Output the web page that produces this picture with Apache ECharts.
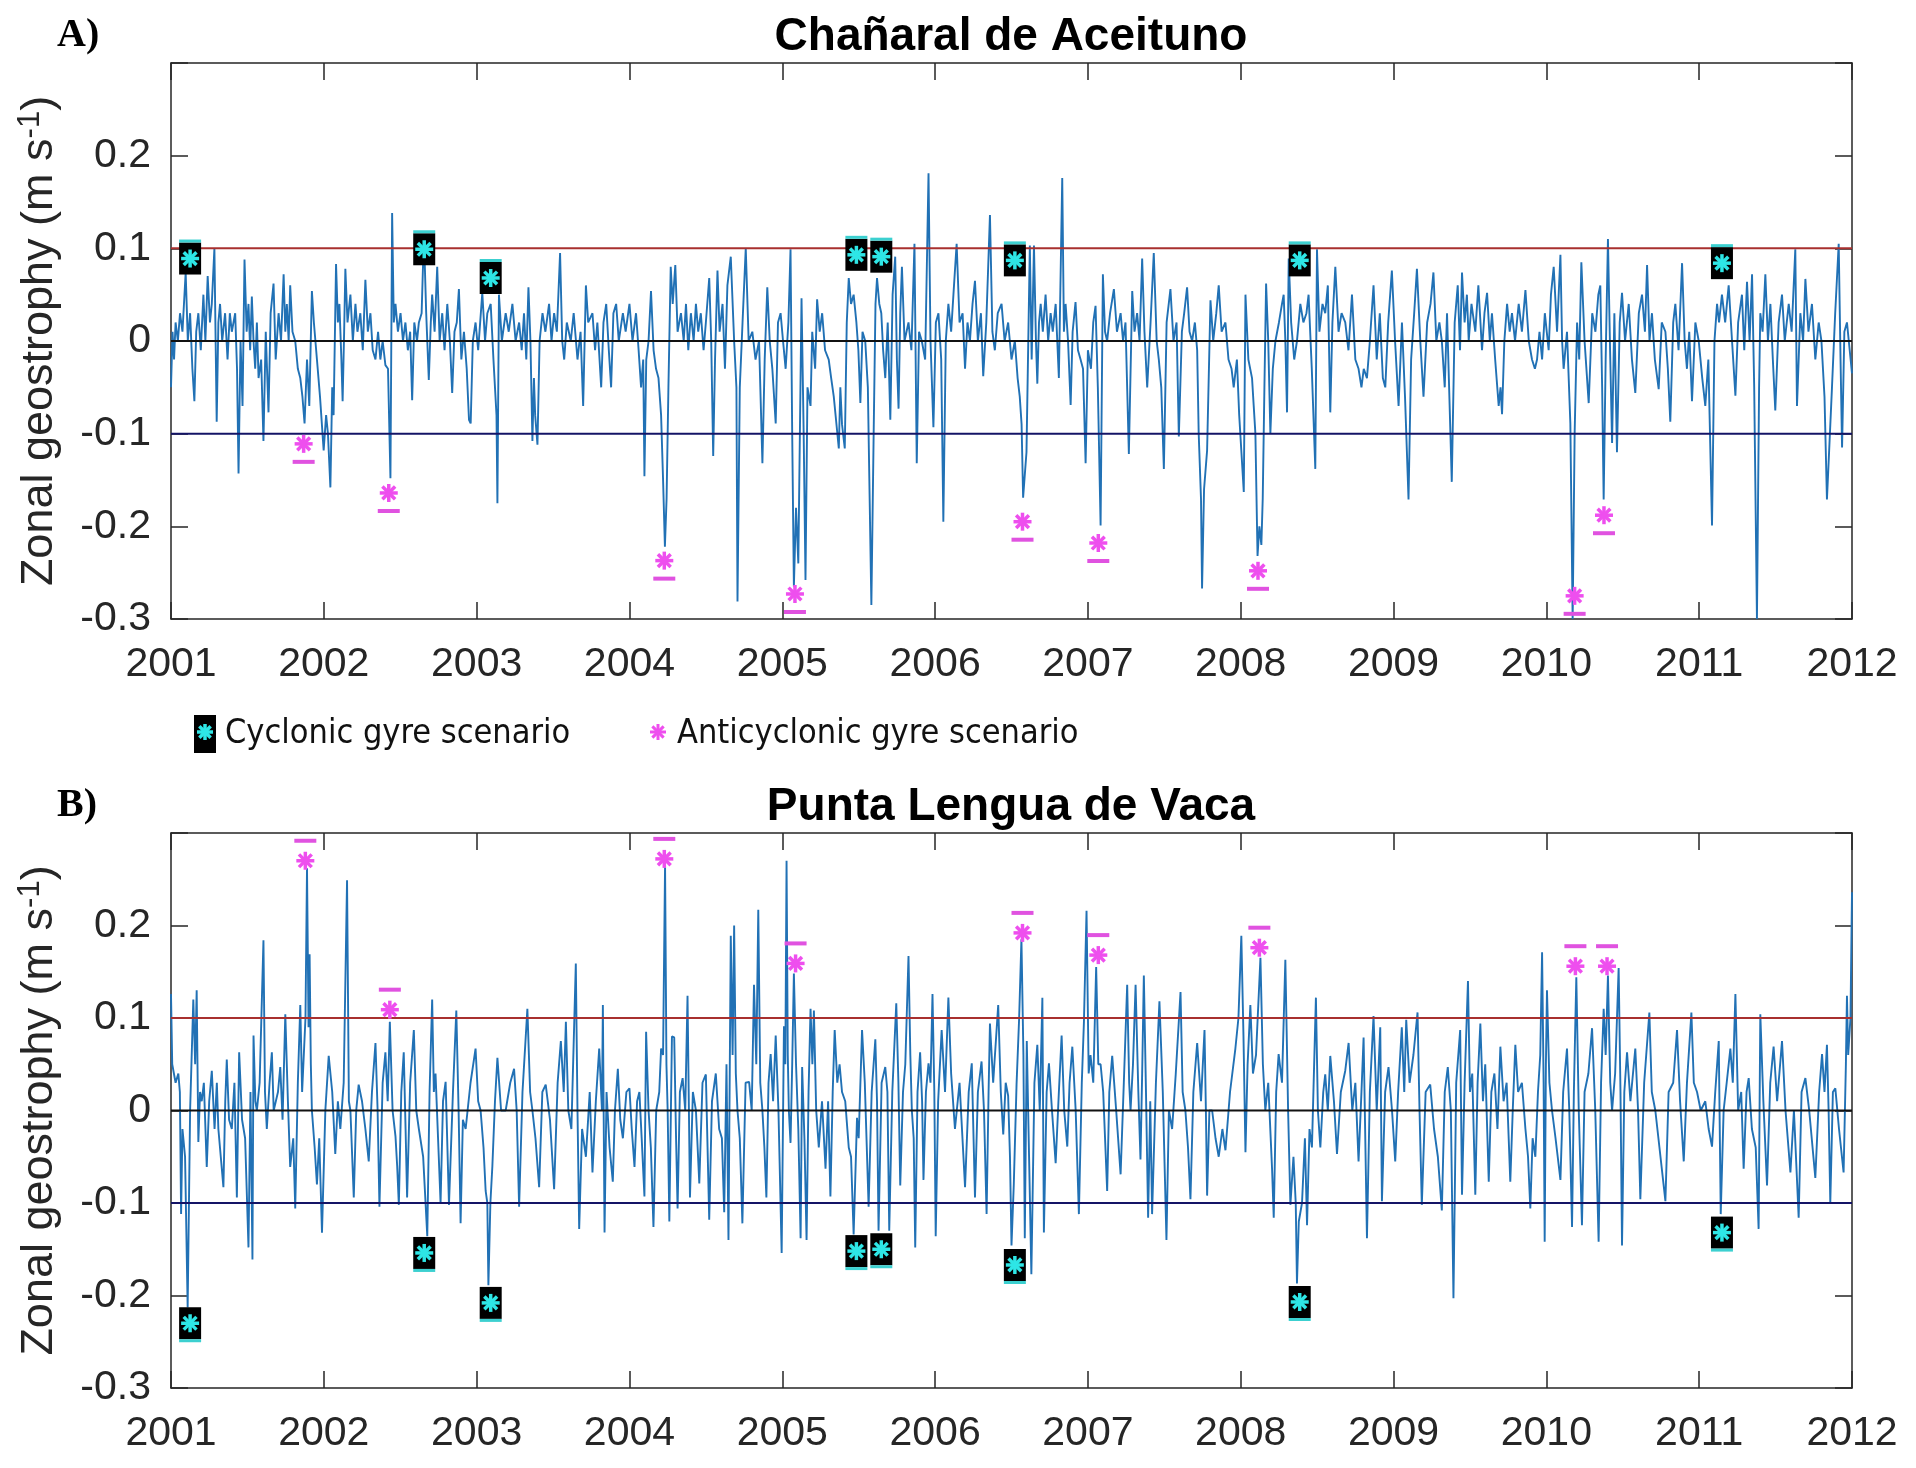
<!DOCTYPE html>
<html>
<head>
<meta charset="utf-8">
<title>Zonal geostrophy</title>
<script src="https://cdn.jsdelivr.net/npm/echarts@6.0.0/dist/echarts.min.js"></script>
<style>
html, body { margin: 0; padding: 0; background: #fff; }
#chart { width: 1916px; height: 1468px; }
</style>
</head>
<body>
<div id="chart"></div>
<script>
// values: [decimal year, m/s]
var geoA = [
  [2001.000,-0.05],[2001.010,0.01],[2001.020,-0.02],[2001.030,0.02],[2001.045,0],[2001.059,0.03],[2001.075,0.01],[2001.096,0.074],
  [2001.110,0],[2001.125,0.03],[2001.140,-0.03],[2001.153,-0.065],[2001.165,0.01],[2001.179,0.03],[2001.195,-0.01],[2001.212,0.05],
  [2001.225,0],[2001.240,0.07],[2001.255,0.02],[2001.267,0.04],[2001.284,0.10],[2001.292,0],[2001.299,-0.087],[2001.310,0.02],
  [2001.321,0.04],[2001.335,0],[2001.354,0.03],[2001.370,-0.02],[2001.385,0.03],[2001.398,0.01],[2001.420,0.03],[2001.432,-0.03],
  [2001.442,-0.143],[2001.455,0],[2001.468,-0.07],[2001.481,0.088],[2001.495,0.01],[2001.507,0.04],[2001.518,-0.01],[2001.529,0.048],
  [2001.540,0],[2001.551,-0.03],[2001.562,0.02],[2001.573,-0.04],[2001.590,-0.02],[2001.605,-0.108],[2001.620,0.01],[2001.638,-0.077],
  [2001.652,0.03],[2001.671,0.062],[2001.685,-0.02],[2001.704,0.03],[2001.720,0],[2001.737,0.072],[2001.748,0.01],[2001.758,0.04],
  [2001.770,0],[2001.780,0.06],[2001.795,0.01],[2001.813,0],[2001.830,-0.03],[2001.846,-0.04],[2001.860,-0.06],[2001.874,-0.089],
  [2001.890,-0.02],[2001.905,-0.07],[2001.922,0.054],[2001.935,0.02],[2001.955,-0.02],[2001.975,-0.06],[2001.999,-0.118],[2002.015,-0.08],
  [2002.027,-0.10],[2002.043,-0.158],[2002.055,-0.05],[2002.064,-0.08],[2002.080,0.083],[2002.092,0.02],[2002.102,0.04],[2002.115,-0.02],
  [2002.123,-0.065],[2002.133,0.01],[2002.141,0.078],[2002.155,0.02],[2002.174,0.05],[2002.190,0],[2002.207,0.04],[2002.220,0.01],
  [2002.239,0.03],[2002.255,-0.01],[2002.272,0.066],[2002.288,0.01],[2002.305,0.03],[2002.320,-0.01],[2002.338,-0.02],[2002.355,0.01],
  [2002.370,-0.02],[2002.385,0],[2002.403,-0.026],[2002.420,-0.03],[2002.436,-0.148],[2002.447,0.138],[2002.458,0.02],[2002.469,0.04],
  [2002.485,0.01],[2002.502,0.03],[2002.518,0],[2002.534,0.02],[2002.550,-0.01],[2002.565,0.01],[2002.578,-0.064],[2002.592,0.02],
  [2002.610,0],[2002.622,0.02],[2002.640,0.03],[2002.655,0.115],[2002.670,0.03],[2002.687,-0.042],[2002.700,0.02],[2002.709,0.05],
  [2002.725,0.01],[2002.742,0.08],[2002.758,0],[2002.775,0.03],[2002.790,-0.01],[2002.808,0.04],[2002.825,0],[2002.840,-0.056],
  [2002.855,0.01],[2002.870,0.02],[2002.884,0.056],[2002.900,-0.02],[2002.917,0.01],[2002.935,-0.03],[2002.950,-0.085],[2002.961,-0.089],
  [2002.975,0],[2002.993,0.02],[2003.010,-0.01],[2003.037,0.052],[2003.055,0],[2003.070,0.03],[2003.092,0.04],[2003.110,-0.02],
  [2003.130,-0.08],[2003.136,-0.175],[2003.146,0.05],[2003.165,0],[2003.190,0.03],[2003.210,0.01],[2003.234,0.04],[2003.255,0],
  [2003.278,0.02],[2003.295,-0.01],[2003.310,0.03],[2003.325,-0.02],[2003.339,0.058],[2003.352,0],[2003.365,-0.108],[2003.375,-0.04],
  [2003.383,-0.08],[2003.398,-0.112],[2003.412,0],[2003.431,0.03],[2003.450,0.01],[2003.474,0.04],[2003.490,0],[2003.507,0.03],
  [2003.525,0.01],[2003.546,0.095],[2003.560,0],[2003.573,-0.02],[2003.590,0.02],[2003.616,0],[2003.635,0.03],[2003.660,-0.02],
  [2003.680,0.01],[2003.697,-0.07],[2003.715,0.06],[2003.730,0.02],[2003.758,0.03],[2003.775,-0.01],[2003.790,0.02],
  [2003.815,-0.05],[2003.830,0.02],[2003.848,0.04],[2003.865,-0.01],[2003.880,-0.05],[2003.895,0.03],[2003.913,0.04],[2003.930,0],
  [2003.957,0.03],[2003.975,0.01],[2004.000,0.04],[2004.020,0],[2004.043,0.03],[2004.060,-0.01],[2004.076,-0.05],[2004.090,-0.02],
  [2004.098,-0.146],[2004.110,-0.02],[2004.125,0],[2004.141,0.054],[2004.158,-0.01],[2004.174,-0.03],[2004.190,-0.04],[2004.207,-0.08],
  [2004.220,-0.15],[2004.232,-0.222],[2004.243,-0.17],[2004.255,-0.05],[2004.270,0.08],[2004.283,0.04],[2004.300,0.082],[2004.315,0.01],
  [2004.337,0.03],[2004.355,0],[2004.370,0.04],[2004.385,-0.01],[2004.402,0.03],[2004.420,0],[2004.435,0.04],[2004.450,0.01],
  [2004.467,0.03],[2004.485,-0.01],[2004.500,0.02],[2004.522,0.068],[2004.535,0],[2004.548,-0.124],[2004.560,-0.02],[2004.576,0.076],
  [2004.590,0.01],[2004.609,0.04],[2004.625,-0.03],[2004.641,0.06],[2004.663,0.091],[2004.685,0],[2004.700,-0.05],[2004.707,-0.281],
  [2004.722,-0.05],[2004.740,0.02],[2004.761,0.10],[2004.780,0],[2004.804,0.01],[2004.825,-0.02],[2004.848,0],[2004.870,-0.132],
  [2004.885,-0.02],[2004.902,0.058],[2004.918,0],[2004.935,-0.03],[2004.957,-0.089],[2004.972,0.02],[2004.989,0.03],[2005.005,0],
  [2005.022,-0.03],[2005.040,0.02],[2005.054,0.099],[2005.065,-0.10],[2005.076,-0.265],[2005.090,-0.18],[2005.105,-0.24],[2005.126,0.046],
  [2005.140,-0.10],[2005.152,-0.258],[2005.165,-0.05],[2005.185,-0.07],[2005.196,0.01],[2005.215,-0.03],[2005.228,0.045],[2005.245,0.01],
  [2005.261,0.03],[2005.280,-0.01],[2005.304,-0.02],[2005.320,-0.04],[2005.337,-0.06],[2005.370,-0.116],[2005.380,-0.05],[2005.391,-0.09],
  [2005.409,-0.116],[2005.422,0.02],[2005.435,0.068],[2005.450,0.04],[2005.467,0.05],[2005.485,0.02],[2005.498,-0.01],[2005.511,-0.067],
  [2005.525,0.01],[2005.543,0],[2005.560,-0.05],[2005.583,-0.285],[2005.598,-0.10],[2005.610,0.04],[2005.620,0.068],[2005.635,0.04],
  [2005.648,0.03],[2005.660,-0.01],[2005.674,-0.04],[2005.690,0.02],[2005.707,-0.085],[2005.722,0.05],[2005.739,0.091],[2005.750,-0.02],
  [2005.761,-0.073],[2005.772,0.03],[2005.783,0.08],[2005.800,0],[2005.826,0.02],[2005.845,-0.01],[2005.865,0.105],[2005.880,-0.132],
  [2005.895,0.01],[2005.913,0],[2005.935,-0.02],[2005.957,0.181],[2005.970,0],[2005.989,-0.093],[2006.005,0.02],[2006.022,0.03],
  [2006.040,-0.02],[2006.054,-0.195],[2006.070,0],[2006.087,0.04],[2006.105,0.01],[2006.120,0.05],[2006.141,0.105],[2006.160,0.02],
  [2006.180,0.03],[2006.196,-0.03],[2006.212,0.02],[2006.228,0],[2006.245,0.04],[2006.261,0.065],[2006.280,0],[2006.300,0.03],
  [2006.315,-0.038],[2006.335,0.02],[2006.359,0.136],[2006.375,0.01],[2006.391,-0.01],[2006.410,0.03],[2006.435,0.04],[2006.455,0],
  [2006.478,0.02],[2006.500,-0.02],[2006.522,0],[2006.540,-0.04],[2006.554,-0.06],[2006.566,-0.09],[2006.576,-0.169],[2006.598,-0.12],
  [2006.620,0.103],[2006.632,-0.02],[2006.647,0.103],[2006.660,0],[2006.669,-0.046],[2006.680,0.02],[2006.691,0.04],[2006.705,0.01],
  [2006.723,0.05],[2006.740,0],[2006.756,0.03],[2006.770,0.01],[2006.789,0.04],[2006.810,-0.04],[2006.821,-0.04],[2006.832,0.176],
  [2006.843,0.01],[2006.854,0.04],[2006.870,0],[2006.887,-0.069],[2006.900,0.01],[2006.919,0.042],[2006.935,-0.01],[2006.952,-0.02],
  [2006.968,-0.03],[2006.985,-0.132],[2007.000,-0.01],[2007.020,-0.03],[2007.035,0.02],[2007.050,0.038],[2007.065,-0.05],[2007.083,-0.199],
  [2007.098,0.072],[2007.112,0.01],[2007.126,0],[2007.145,0.03],[2007.170,0.056],[2007.190,0.01],[2007.214,0.03],[2007.230,0],
  [2007.246,0.02],[2007.268,-0.122],[2007.290,0.054],[2007.305,0.01],[2007.322,0.03],[2007.338,0],[2007.355,0.089],[2007.370,0.01],
  [2007.388,-0.05],[2007.410,0.02],[2007.431,0.095],[2007.450,0],[2007.464,-0.02],[2007.480,-0.05],[2007.497,-0.138],[2007.515,0.02],
  [2007.540,0.056],[2007.560,0],[2007.580,0.02],[2007.595,-0.103],[2007.615,0.01],[2007.630,0.03],[2007.649,0.058],[2007.665,0.01],
  [2007.682,0],[2007.700,0.02],[2007.715,-0.01],[2007.725,-0.10],[2007.740,-0.17],[2007.747,-0.267],[2007.760,-0.16],[2007.780,-0.118],
  [2007.802,0.044],[2007.820,0],[2007.840,0.03],[2007.856,0.06],[2007.875,0.01],[2007.900,0.02],[2007.920,-0.02],[2007.940,-0.03],
  [2007.954,-0.05],[2007.975,-0.02],[2007.990,-0.08],[2008.020,-0.163],[2008.031,0.05],[2008.050,-0.02],[2008.074,-0.04],[2008.085,-0.07],
  [2008.096,-0.10],[2008.110,-0.232],[2008.122,-0.20],[2008.135,-0.22],[2008.144,-0.17],[2008.155,-0.05],[2008.166,0.062],[2008.180,0],
  [2008.194,-0.10],[2008.210,-0.03],[2008.227,0],[2008.250,0.02],[2008.270,0.04],[2008.281,0.05],[2008.292,0],[2008.303,-0.077],
  [2008.314,0.089],[2008.330,0.02],[2008.350,-0.02],[2008.368,0],[2008.390,0.04],[2008.410,0.02],[2008.430,0.03],[2008.444,0.05],
  [2008.465,-0.03],[2008.488,-0.138],[2008.499,0.099],[2008.515,0.01],[2008.535,0.04],[2008.553,0.03],[2008.570,0.06],[2008.586,-0.077],
  [2008.600,0.02],[2008.619,0.08],[2008.640,0.01],[2008.660,0.03],[2008.684,0.02],[2008.705,-0.01],[2008.728,0.05],[2008.750,-0.02],
  [2008.771,-0.03],[2008.790,-0.05],[2008.805,-0.03],[2008.826,-0.04],[2008.845,0],[2008.869,0.06],[2008.890,-0.02],[2008.910,0.03],
  [2008.930,-0.04],[2008.946,-0.05],[2008.965,0.02],[2008.989,0.076],[2009.010,0],[2009.033,-0.07],[2009.055,0.02],[2009.075,-0.06],
  [2009.098,-0.171],[2009.115,-0.02],[2009.135,0.03],[2009.153,0.078],[2009.175,0],[2009.196,-0.06],[2009.220,0.02],[2009.242,0.04],
  [2009.261,0.074],[2009.280,0],[2009.300,0.02],[2009.316,0],[2009.335,-0.05],[2009.350,0.03],[2009.381,-0.152],[2009.400,0.02],
  [2009.420,0.06],[2009.435,-0.01],[2009.448,0.074],[2009.465,0.02],[2009.480,0.05],[2009.492,0],[2009.510,0.04],[2009.535,0.01],
  [2009.555,0.06],[2009.579,-0.01],[2009.595,0.03],[2009.612,0.052],[2009.630,0],[2009.644,0.03],[2009.665,-0.02],[2009.688,-0.07],
  [2009.700,-0.05],[2009.710,-0.079],[2009.725,0],[2009.743,0.04],[2009.760,0.01],[2009.775,0.03],[2009.795,0],[2009.819,0.04],
  [2009.840,0.01],[2009.863,0.055],[2009.885,0],[2009.906,-0.02],[2009.925,-0.03],[2009.939,-0.02],[2009.955,0.01],[2009.972,-0.02],
  [2009.990,0.03],[2010.015,-0.01],[2010.030,0.05],[2010.048,0.08],[2010.070,0.01],[2010.092,0.093],[2010.103,0],[2010.113,-0.03],
  [2010.135,0.01],[2010.157,-0.089],[2010.172,-0.30],[2010.185,-0.10],[2010.201,0.02],[2010.215,-0.02],[2010.229,0.085],[2010.250,0],
  [2010.277,-0.067],[2010.300,0.03],[2010.321,0.01],[2010.340,0.05],[2010.353,0.06],[2010.365,-0.05],[2010.375,-0.171],[2010.388,-0.02],
  [2010.403,0.11],[2010.417,-0.01],[2010.430,-0.11],[2010.445,0.03],[2010.462,-0.12],[2010.480,0.02],[2010.495,0.052],[2010.515,0],
  [2010.539,0.04],[2010.560,-0.02],[2010.582,-0.056],[2010.605,0.03],[2010.626,0.05],[2010.645,0.01],[2010.659,0.082],[2010.675,0],
  [2010.691,0.03],[2010.710,-0.02],[2010.735,-0.052],[2010.755,0.02],[2010.779,0.01],[2010.795,-0.03],[2010.811,-0.087],[2010.830,0.02],
  [2010.844,0.04],[2010.865,-0.01],[2010.888,0.084],[2010.905,0],[2010.920,-0.03],[2010.935,0.01],[2010.953,-0.065],[2010.975,0.02],
  [2010.997,0],[2011.020,-0.04],[2011.040,-0.07],[2011.060,-0.02],[2011.084,-0.199],[2011.100,0],[2011.117,0.04],[2011.130,0.02],
  [2011.149,0.05],[2011.170,0.02],[2011.193,0.06],[2011.215,0],[2011.237,-0.059],[2011.255,0.02],[2011.280,0.05],[2011.295,-0.01],
  [2011.313,0.064],[2011.330,0],[2011.346,0.072],[2011.360,-0.05],[2011.378,-0.30],[2011.392,-0.05],[2011.400,0.03],[2011.415,0.01],
  [2011.433,0.072],[2011.450,0],[2011.466,0.04],[2011.482,-0.02],[2011.498,-0.075],[2011.520,0.02],[2011.542,0.05],[2011.560,0],
  [2011.586,0.04],[2011.605,0.01],[2011.629,0.099],[2011.640,-0.07],[2011.662,0.03],[2011.680,0],[2011.695,0.067],[2011.715,0.01],
  [2011.738,0.04],[2011.760,-0.02],[2011.782,0.02],[2011.800,0],[2011.820,-0.06],[2011.836,-0.171],[2011.850,-0.12],[2011.869,-0.05],
  [2011.890,0.03],[2011.913,0.105],[2011.925,-0.02],[2011.935,-0.115],[2011.950,0.01],[2011.967,0.02],[2011.985,-0.01],[2012.000,-0.035]
];

var geoB = [
  [2001.000,0.126],[2001.008,0.05],[2001.015,0.05],[2001.030,0.03],[2001.048,0.04],[2001.058,0.02],[2001.066,-0.112],[2001.075,-0.02],
  [2001.081,-0.02],[2001.092,-0.05],[2001.109,-0.213],[2001.125,0],[2001.146,0.12],[2001.158,0.05],[2001.168,0.13],[2001.179,-0.034],
  [2001.190,0.02],[2001.201,0.01],[2001.215,0.03],[2001.234,-0.061],[2001.250,0.01],[2001.267,0.043],[2001.285,-0.02],[2001.300,0.03],
  [2001.310,-0.02],[2001.343,-0.083],[2001.355,0.01],[2001.365,0.055],[2001.380,-0.01],[2001.398,-0.02],[2001.415,0.03],[2001.431,-0.094],
  [2001.446,0.063],[2001.465,-0.01],[2001.485,-0.03],[2001.507,-0.148],[2001.520,0.02],[2001.533,-0.161],[2001.540,0.081],[2001.552,0.01],
  [2001.562,0],[2001.580,0.03],[2001.605,0.184],[2001.615,0.02],[2001.627,-0.02],[2001.645,0.03],[2001.660,0.063],[2001.672,0],
  [2001.682,0],[2001.700,0.02],[2001.715,0.047],[2001.730,-0.01],[2001.748,0.104],[2001.765,0.01],[2001.780,-0.061],[2001.800,-0.03],
  [2001.813,-0.106],[2001.830,0.03],[2001.846,0.114],[2001.858,0.02],[2001.868,0.02],[2001.880,0.10],[2001.890,0.262],[2001.900,0.09],
  [2001.907,0.169],[2001.915,0.05],[2001.922,0],[2001.940,-0.04],[2001.955,-0.08],[2001.970,-0.03],[2001.988,-0.132],[2002.010,0],
  [2002.032,0.059],[2002.055,0.02],[2002.075,-0.047],[2002.092,0.01],[2002.108,-0.02],[2002.130,0.03],[2002.152,0.249],[2002.164,0.01],
  [2002.174,0],[2002.196,-0.094],[2002.212,0],[2002.228,0.028],[2002.250,0.01],[2002.272,-0.02],[2002.294,-0.055],[2002.315,0.02],
  [2002.338,0.073],[2002.352,0],[2002.364,-0.104],[2002.385,0.03],[2002.403,0.063],[2002.418,0.01],[2002.432,0.096],[2002.450,0],
  [2002.469,-0.028],[2002.480,-0.06],[2002.491,-0.102],[2002.507,0.02],[2002.523,0.063],[2002.535,-0.02],[2002.545,-0.094],[2002.565,0.03],
  [2002.589,0.087],[2002.605,0],[2002.622,-0.02],[2002.650,-0.05],[2002.677,-0.136],[2002.692,0.02],[2002.709,0.12],[2002.720,0.02],
  [2002.731,0.04],[2002.764,-0.10],[2002.780,0.01],[2002.797,0.031],[2002.819,-0.102],[2002.845,0.02],[2002.867,0.108],[2002.882,0],
  [2002.895,-0.122],[2002.910,-0.01],[2002.928,-0.02],[2002.960,0.03],[2002.993,0.067],[2003.010,0.01],[2003.026,0],[2003.045,-0.04],
  [2003.059,-0.087],[2003.070,-0.10],[2003.077,-0.189],[2003.090,-0.10],[2003.103,-0.06],[2003.120,0.01],[2003.136,0.057],[2003.160,0],
  [2003.190,0],[2003.220,0.03],[2003.245,0.045],[2003.262,0],[2003.278,-0.104],[2003.300,0.02],[2003.332,0.11],[2003.350,0.02],
  [2003.365,0],[2003.385,-0.03],[2003.409,-0.083],[2003.430,0.02],[2003.452,0.028],[2003.480,-0.01],[2003.507,-0.085],[2003.530,0.03],
  [2003.551,0.075],[2003.570,0.02],[2003.584,0.096],[2003.600,0],[2003.620,-0.02],[2003.649,0.159],[2003.660,0],[2003.671,-0.128],
  [2003.690,-0.02],[2003.715,-0.05],[2003.740,0.02],[2003.758,-0.067],[2003.780,0.01],[2003.802,0.067],[2003.820,0],[2003.826,0.114],
  [2003.837,-0.132],[2003.850,0.02],[2003.870,-0.04],[2003.891,-0.077],[2003.905,0],[2003.924,0.045],[2003.940,-0.01],[2003.957,-0.03],
  [2003.980,0.02],[2004.000,0.024],[2004.015,-0.02],[2004.033,-0.061],[2004.050,0.01],[2004.065,0.02],[2004.080,-0.03],[2004.098,-0.093],
  [2004.109,0.085],[2004.125,0],[2004.140,-0.04],[2004.157,-0.126],[2004.175,0],[2004.195,0.02],[2004.207,0.067],[2004.220,0.06],
  [2004.233,0.266],[2004.242,0.05],[2004.250,0],[2004.261,-0.12],[2004.278,0.08],[2004.293,0.079],[2004.305,-0.03],[2004.315,-0.106],
  [2004.330,0.02],[2004.348,0.035],[2004.365,0],[2004.380,0.124],[2004.396,-0.094],[2004.415,0.02],[2004.435,0],[2004.457,-0.079],
  [2004.478,0.03],[2004.500,0.039],[2004.522,-0.118],[2004.540,0.01],[2004.565,0.04],[2004.587,-0.02],[2004.605,-0.03],[2004.620,-0.11],
  [2004.635,0.05],[2004.648,-0.14],[2004.663,0.189],[2004.675,0.06],[2004.685,0.20],[2004.696,0.04],[2004.707,0],[2004.722,-0.03],
  [2004.739,-0.122],[2004.760,0.03],[2004.783,0.031],[2004.800,0],[2004.815,0.136],[2004.830,0.05],[2004.843,0.217],[2004.856,0.03],
  [2004.870,0],[2004.883,-0.04],[2004.896,-0.094],[2004.910,0.03],[2004.924,0.061],[2004.940,0.01],[2004.957,0.081],[2004.975,0],
  [2004.996,-0.154],[2005.011,0.091],[2005.020,0.05],[2005.028,0.27],[2005.036,0.06],[2005.043,0],[2005.054,-0.035],[2005.065,0.05],
  [2005.076,0.148],[2005.090,0.05],[2005.105,-0.02],[2005.120,-0.138],[2005.130,0.047],[2005.145,-0.03],[2005.159,-0.14],[2005.172,0.02],
  [2005.185,0.11],[2005.197,0.05],[2005.207,0.108],[2005.222,0],[2005.239,-0.04],[2005.260,0.01],[2005.283,-0.063],[2005.300,0.01],
  [2005.315,-0.093],[2005.330,0.02],[2005.343,0.087],[2005.360,0.03],[2005.375,0.05],[2005.391,0.02],[2005.412,0.01],[2005.435,-0.04],
  [2005.450,-0.05],[2005.467,-0.134],[2005.480,-0.06],[2005.489,-0.008],[2005.500,-0.03],[2005.522,0.087],[2005.540,0.03],[2005.565,-0.104],
  [2005.585,0.02],[2005.609,0.077],[2005.620,0.01],[2005.630,-0.13],[2005.650,0.03],[2005.674,0.047],[2005.688,0.02],[2005.700,-0.13],
  [2005.720,0.02],[2005.746,0.116],[2005.760,0.03],[2005.772,-0.081],[2005.790,0.02],[2005.805,0.05],[2005.826,0.167],[2005.838,0.06],
  [2005.848,0],[2005.860,-0.03],[2005.870,-0.148],[2005.885,0.02],[2005.902,0.063],[2005.915,0.01],[2005.924,-0.075],[2005.940,0.02],
  [2005.957,0.051],[2005.970,0.03],[2005.983,0.126],[2005.995,0.02],[2006.004,-0.136],[2006.020,0.01],[2006.043,0.087],[2006.065,0.02],
  [2006.087,0.122],[2006.105,0.04],[2006.130,-0.02],[2006.160,0.03],[2006.196,-0.083],[2006.220,0.02],[2006.240,0.051],[2006.261,-0.094],
  [2006.280,0.02],[2006.304,0.053],[2006.320,0],[2006.337,-0.112],[2006.350,0.02],[2006.359,0.094],[2006.380,0.03],[2006.413,0.114],
  [2006.430,0.02],[2006.446,-0.026],[2006.462,0.03],[2006.478,0.016],[2006.490,-0.05],[2006.500,-0.146],[2006.515,-0.08],[2006.533,0.028],
  [2006.550,0.10],[2006.565,0.185],[2006.578,0.06],[2006.587,-0.138],[2006.600,0.075],[2006.615,-0.05],[2006.630,-0.177],[2006.650,0.03],
  [2006.669,0.071],[2006.685,0],[2006.702,0.122],[2006.712,-0.132],[2006.730,0.02],[2006.745,0.051],[2006.765,0],[2006.789,-0.057],
  [2006.810,0.02],[2006.828,0.081],[2006.845,0],[2006.865,-0.039],[2006.880,0.03],[2006.898,0.069],[2006.920,0],[2006.941,-0.112],
  [2006.960,0.03],[2006.974,0.096],[2006.991,0.216],[2007.005,0.04],[2007.017,0.06],[2007.035,0.03],[2007.054,0.155],[2007.068,0.05],
  [2007.083,0.05],[2007.100,0.02],[2007.126,-0.087],[2007.140,0.02],[2007.159,0.059],[2007.185,0],[2007.214,-0.069],[2007.235,0.03],
  [2007.257,0.136],[2007.270,0.03],[2007.279,0],[2007.295,0.05],[2007.312,0.136],[2007.330,0.02],[2007.344,-0.053],[2007.355,0.04],
  [2007.366,0.146],[2007.380,0.02],[2007.394,-0.116],[2007.408,0.01],[2007.420,-0.112],[2007.445,0.03],[2007.468,0.118],[2007.490,0.02],
  [2007.514,-0.14],[2007.530,0],[2007.551,-0.02],[2007.575,0.04],[2007.606,0.128],[2007.620,0.02],[2007.638,0],[2007.655,-0.04],
  [2007.671,-0.096],[2007.690,0.02],[2007.715,0.073],[2007.740,0.01],[2007.763,0.087],[2007.772,0],[2007.780,-0.092],[2007.795,0],
  [2007.813,0],[2007.835,-0.03],[2007.856,-0.05],[2007.880,-0.02],[2007.900,-0.043],[2007.930,0.02],[2007.965,0.067],[2007.985,0.10],
  [2008.004,0.189],[2008.018,0.08],[2008.031,-0.045],[2008.045,0.05],[2008.063,0.114],[2008.080,0.04],[2008.100,0.06],[2008.129,0.165],
  [2008.145,0.05],[2008.161,0],[2008.180,0.03],[2008.205,-0.063],[2008.216,-0.116],[2008.232,0.02],[2008.248,0.061],[2008.270,0.03],
  [2008.292,0.163],[2008.310,0],[2008.325,-0.102],[2008.345,-0.05],[2008.360,-0.10],[2008.368,-0.187],[2008.380,-0.12],[2008.401,-0.10],
  [2008.420,-0.03],[2008.434,-0.124],[2008.450,-0.02],[2008.466,-0.04],[2008.492,0.122],[2008.505,0],[2008.521,-0.04],[2008.540,0.02],
  [2008.553,0.039],[2008.570,0],[2008.586,0.059],[2008.610,0.01],[2008.630,-0.047],[2008.655,0.02],[2008.684,0.043],[2008.706,0.073],
  [2008.730,0],[2008.750,0.03],[2008.771,-0.055],[2008.790,0.02],[2008.804,0.079],[2008.826,-0.138],[2008.845,0.02],[2008.869,0.102],
  [2008.890,0],[2008.913,0.09],[2008.924,-0.098],[2008.945,0.02],[2008.967,0.047],[2008.990,0],[2009.011,-0.055],[2009.030,0.02],
  [2009.054,0.09],[2009.070,0.02],[2009.083,0.098],[2009.105,0.03],[2009.130,0.06],[2009.157,0.106],[2009.170,0],[2009.185,-0.102],
  [2009.210,0.02],[2009.240,0.028],[2009.265,-0.02],[2009.290,-0.05],[2009.316,-0.108],[2009.335,0.02],[2009.355,0.047],[2009.375,0],
  [2009.392,-0.203],[2009.410,0.03],[2009.436,0.087],[2009.448,-0.091],[2009.465,0.03],[2009.487,0.14],[2009.500,0.02],[2009.515,0.04],
  [2009.535,-0.091],[2009.550,0.03],[2009.568,0.094],[2009.585,0.01],[2009.600,0.05],[2009.623,-0.077],[2009.640,0.02],[2009.660,0.04],
  [2009.680,-0.02],[2009.699,0.069],[2009.720,0.01],[2009.740,0.03],[2009.764,-0.077],[2009.780,0],[2009.797,0.071],[2009.815,0.02],
  [2009.840,0.03],[2009.863,-0.02],[2009.880,-0.05],[2009.895,-0.106],[2009.910,-0.03],[2009.928,-0.05],[2009.945,0.02],[2009.960,0.06],
  [2009.972,0.171],[2009.982,0.03],[2009.989,-0.142],[2009.997,0.05],[2010.004,0.13],[2010.020,0.03],[2010.037,0],[2010.060,-0.03],
  [2010.092,-0.075],[2010.110,0.02],[2010.135,0.067],[2010.150,0],[2010.168,-0.126],[2010.180,0.02],[2010.196,0.144],[2010.212,0],
  [2010.233,-0.124],[2010.250,0.02],[2010.275,0.04],[2010.299,0.089],[2010.320,0],[2010.342,-0.142],[2010.358,0.03],[2010.375,0.11],
  [2010.388,0.06],[2010.403,0.146],[2010.418,0.03],[2010.430,0],[2010.450,0.04],[2010.473,0.154],[2010.485,0.02],[2010.495,-0.146],
  [2010.510,0.02],[2010.528,0.063],[2010.550,0.01],[2010.582,0.067],[2010.600,0],[2010.615,-0.096],[2010.640,0.03],[2010.674,0.106],
  [2010.690,0.02],[2010.713,0],[2010.740,-0.04],[2010.779,-0.098],[2010.800,0.02],[2010.830,0.03],[2010.855,0.087],[2010.875,0.01],
  [2010.899,-0.055],[2010.920,0.03],[2010.949,0.106],[2010.965,0.03],[2010.986,0.02],[2011.010,0],[2011.040,0.01],[2011.062,-0.02],
  [2011.084,-0.039],[2011.105,0.02],[2011.128,0.075],[2011.141,-0.112],[2011.160,0],[2011.180,0.03],[2011.204,0.067],[2011.220,0.03],
  [2011.237,0.126],[2011.255,0],[2011.275,0.02],[2011.291,-0.063],[2011.310,0.02],[2011.324,0.035],[2011.345,-0.02],[2011.370,-0.04],
  [2011.389,-0.128],[2011.400,0.104],[2011.420,0.01],[2011.444,-0.081],[2011.465,0.03],[2011.487,0.069],[2011.510,0.01],[2011.542,0.075],
  [2011.565,0],[2011.597,-0.067],[2011.620,0],[2011.651,-0.116],[2011.670,0.02],[2011.695,0.035],[2011.720,0],[2011.760,-0.073],
  [2011.785,0.02],[2011.804,0.061],[2011.820,0.02],[2011.836,0.071],[2011.847,0],[2011.858,-0.10],[2011.875,0.02],[2011.891,0.024],
  [2011.915,-0.02],[2011.945,-0.067],[2011.960,0.05],[2011.967,0.124],[2011.975,0.06],[2011.983,0.061],[2011.990,0.10],[2012.000,0.236]
];

var cycloneA = [[2001.125,0.089],[2002.657,0.099],[2003.092,0.068],[2005.485,0.093],[2005.648,0.091],[2006.522,0.087],[2008.386,0.087],[2011.149,0.084]];
var cycloneB = [[2001.125,-0.230],[2002.657,-0.154],[2003.092,-0.208],[2005.485,-0.152],[2005.648,-0.150],[2006.522,-0.167],[2008.386,-0.207],[2011.149,-0.132]];
var anticycA = [[2001.868,-0.111],[2002.425,-0.164],[2004.228,-0.237],[2005.083,-0.273],[2006.572,-0.195],[2007.068,-0.218],[2008.113,-0.248],[2010.185,-0.275],[2010.377,-0.188]];
var anticycB = [[2001.879,0.270],[2002.432,0.109],[2004.228,0.272],[2005.087,0.159],[2006.572,0.192],[2007.068,0.168],[2008.122,0.176],[2010.190,0.156],[2010.397,0.156]];

var refLevels = [0.1, 0, -0.1];
var refColors = ['#a8302f', '#111111', '#141466'];
var panelTitles = ['Chañaral de Aceituno', 'Punta Lengua de Vaca'];
var panelTags = ['A)', 'B)'];

var AXIS = '#262626';
var FONT = 'Liberation Sans, Arial, Helvetica, sans-serif';
var CYAN = '#2ee6e6';
var MAGENTA = '#ee4fee';
var LINE = '#2171b5';

var chart = echarts.init(document.getElementById('chart'));

function xAxis(grid, pos) {
    return {
        type: 'value', gridIndex: grid, position: pos,
        min: 2001, max: 2012, interval: 1,
        axisLine: { show: true, onZero: false, lineStyle: { color: AXIS, width: 1.5 } },
        axisTick: { show: true, inside: true, length: 17, lineStyle: { color: AXIS, width: 1.5 } },
        axisLabel: {
            show: pos === 'bottom', margin: 25, fontSize: 41, color: AXIS, fontFamily: FONT,
            showMinLabel: true, showMaxLabel: true,
            formatter: function(v) { return String(Math.round(v)); }
        },
        splitLine: { show: false }
    };
}

function yAxis(grid, pos) {
    return {
        type: 'value', gridIndex: grid, position: pos,
        min: -0.3, max: 0.3, interval: 0.1,
        axisLine: { show: true, onZero: false, lineStyle: { color: AXIS, width: 1.5 } },
        axisTick: { show: true, inside: true, length: 17, lineStyle: { color: AXIS, width: 1.5 } },
        axisLabel: {
            show: pos === 'left', margin: 20, fontSize: 41, color: AXIS, fontFamily: FONT,
            formatter: function(v) {
                var r = Math.round(v * 10) / 10;
                if (r > 0.25) return '';
                return r === 0 ? '0' : r.toFixed(1);
            }
        },
        splitLine: { show: false },
        name: pos === 'left' ? '{n|Zonal geostrophy (m s}{s|-1}{n|)}' : '',
        nameLocation: 'middle', nameGap: 106, nameRotate: 90,
        nameTextStyle: {
            rich: {
                n: { fontSize: 45, fontFamily: FONT, color: AXIS, lineHeight: 50 },
                s: { fontSize: 31, fontFamily: FONT, color: AXIS, verticalAlign: 'top', lineHeight: 50 }
            }
        }
    };
}

function asterisk(cx, cy, r, color, w) {
    var parts = [];
    for (var k = 0; k < 4; k++) {
        var a = k * Math.PI / 4;
        var dx = r * Math.cos(a), dy = r * Math.sin(a);
        parts.push({
            type: 'line',
            shape: { x1: cx - dx, y1: cy - dy, x2: cx + dx, y2: cy + dy },
            style: { stroke: color, lineWidth: w || 3.5 }
        });
    }
    return parts;
}

function cycloneRender(barBelow) {
    return function(params, api) {
        var p = api.coord([api.value(0), api.value(1)]);
        var x = p[0], y = p[1];
        var barY = barBelow ? y + 16 : y - 19;
        return {
            type: 'group',
            children: [
                { type: 'rect', shape: { x: x - 11, y: y - 16, width: 22, height: 32 }, style: { fill: '#000' } },
                { type: 'rect', shape: { x: x - 11, y: barY, width: 22, height: 3 }, style: { fill: '#3cd0d0' } }
            ].concat(asterisk(x, y, 9, CYAN))
        };
    };
}

function anticycloneRender(barAbove) {
    return function(params, api) {
        var p = api.coord([api.value(0), api.value(1)]);
        var x = p[0], y = p[1];
        var barY = barAbove ? y - 22 : y + 16;
        return {
            type: 'group',
            children: [
                { type: 'rect', shape: { x: x - 11, y: barY, width: 22, height: 4 }, style: { fill: '#e052e0' } }
            ].concat(asterisk(x, y, 9, MAGENTA))
        };
    };
}

function panelSeries(grid, data, cyc, anti) {
    var ax = grid * 2;
    var list = [{
        type: 'line', xAxisIndex: ax, yAxisIndex: ax, data: data,
        showSymbol: false, silent: true, z: 2,
        lineStyle: { color: LINE, width: 1.9 }
    }];
    refLevels.forEach(function(lv, i) {
        list.push({
            type: 'line', xAxisIndex: ax, yAxisIndex: ax,
            data: [[2001, lv], [2012, lv]],
            showSymbol: false, silent: true, z: 3,
            lineStyle: { color: refColors[i], width: 2 }
        });
    });
    list.push({
        type: 'custom', xAxisIndex: ax, yAxisIndex: ax, data: cyc, z: 5, clip: false,
        renderItem: cycloneRender(grid === 1)
    });
    list.push({
        type: 'custom', xAxisIndex: ax, yAxisIndex: ax, data: anti, z: 5, clip: false,
        renderItem: anticycloneRender(grid === 1)
    });
    return list;
}

var legendY = 734;
var LEGEND_FONT = '34px DejaVu Sans Condensed, DejaVu Sans, sans-serif';
var graphics = [
    { type: 'text', x: 1011, y: 37, style: { text: panelTitles[0], font: 'bold 46px ' + FONT, fill: '#000', align: 'center', verticalAlign: 'middle' } },
    { type: 'text', x: 1011, y: 807, style: { text: panelTitles[1], font: 'bold 46px ' + FONT, fill: '#000', align: 'center', verticalAlign: 'middle' } },
    { type: 'text', x: 57, y: 36, style: { text: panelTags[0], font: 'bold 40px Liberation Serif, Times New Roman, serif', fill: '#000', verticalAlign: 'middle' } },
    { type: 'text', x: 57, y: 806, style: { text: panelTags[1], font: 'bold 40px Liberation Serif, Times New Roman, serif', fill: '#000', verticalAlign: 'middle' } },
    { type: 'rect', shape: { x: 194, y: legendY - 19, width: 22, height: 38 }, style: { fill: '#000' } },
    { type: 'text', x: 225, y: legendY, style: { text: 'Cyclonic gyre scenario', font: LEGEND_FONT, fill: '#111', verticalAlign: 'middle' } },
    { type: 'text', x: 677, y: legendY, style: { text: 'Anticyclonic gyre scenario', font: LEGEND_FONT, fill: '#111', verticalAlign: 'middle' } }
].concat(asterisk(205, legendY - 2, 8, CYAN)).concat(asterisk(658, legendY - 2, 8, MAGENTA, 3));

var option = {
    backgroundColor: '#ffffff',
    animation: false,
    grid: [
        { left: 171, top: 63, width: 1681, height: 556 },
        { left: 171, top: 833, width: 1681, height: 555 }
    ],
    xAxis: [xAxis(0, 'bottom'), xAxis(0, 'top'), xAxis(1, 'bottom'), xAxis(1, 'top')],
    yAxis: [yAxis(0, 'left'), yAxis(0, 'right'), yAxis(1, 'left'), yAxis(1, 'right')],
    graphic: graphics,
    series: panelSeries(0, geoA, cycloneA, anticycA).concat(panelSeries(1, geoB, cycloneB, anticycB))
};

chart.setOption(option);
</script>
</body>
</html>
